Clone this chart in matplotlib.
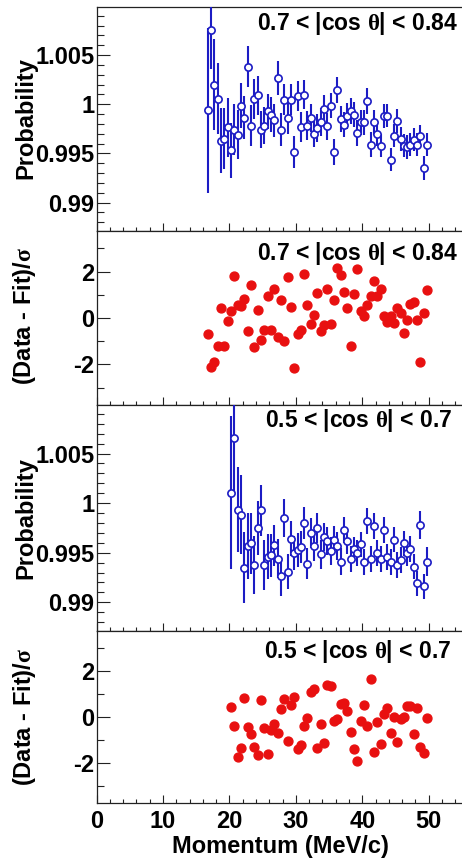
import matplotlib
matplotlib.use('Agg')
import matplotlib.pyplot as plt
from matplotlib.ticker import MultipleLocator, FuncFormatter

plt.rcParams['font.family'] = ['Liberation Sans', 'DejaVu Sans']
plt.rcParams['font.weight'] = 'bold'
plt.rcParams['mathtext.fontset'] = 'custom'
plt.rcParams['mathtext.rm'] = 'Liberation Serif'
plt.rcParams['mathtext.it'] = 'Liberation Serif:italic'
plt.rcParams['axes.unicode_minus'] = False

# ---------------- data ----------------
mom_a = [16.75, 17.25, 17.75, 18.25, 18.75, 19.25, 19.75, 20.25, 20.75, 21.25,
         21.75, 22.25, 22.75, 23.25, 23.75, 24.25, 24.75, 25.25, 25.75, 26.25,
         26.75, 27.25, 27.75, 28.25, 28.75, 29.25, 29.75, 30.25, 30.75, 31.25,
         31.75, 32.25, 32.75, 33.25, 33.75, 34.25, 34.75, 35.25, 35.75, 36.25,
         36.75, 37.25, 37.75, 38.25, 38.75, 39.25, 39.75, 40.25, 40.75, 41.25,
         41.75, 42.25, 42.75, 43.25, 43.75, 44.25, 44.75, 45.25, 45.75, 46.25,
         46.75, 47.25, 47.75, 48.25, 48.75, 49.25, 49.75]
prob_a = [0.99939, 1.00755, 1.00201, 1.00055, 0.99630, 0.99647, 0.99765, 0.99531, 0.99742, 0.99691,
          0.99987, 0.99864, 1.00381, 0.99783, 1.00055, 1.00092, 0.99742, 0.99783, 0.99929, 0.99895,
          0.99837, 1.00269, 0.99742, 1.00048, 0.99861, 1.00048, 0.99514, 1.00082, 0.99769, 1.00099,
          0.99783, 0.99861, 0.99701, 0.99759, 0.99820, 0.99953, 0.99776, 0.99987, 0.99514, 1.00143,
          0.99851, 0.99793, 0.99878, 0.99929, 0.99895, 0.99708, 0.99816, 0.99816, 1.00031, 0.99589,
          0.99816, 0.99701, 0.99579, 0.99878, 0.99885, 0.99436, 0.99681, 0.99827, 0.99647, 0.99579,
          0.99565, 0.99589, 0.99640, 0.99589, 0.99674, 0.99351, 0.99589]
err_a = [0.0084, 0.0040, 0.0046, 0.0036, 0.0033, 0.0031, 0.0030, 0.0028, 0.0026, 0.0025,
         0.0023, 0.0022, 0.0021, 0.0021, 0.0020, 0.0020, 0.0019, 0.0019, 0.0018, 0.0018,
         0.0017, 0.0017, 0.0017, 0.0016, 0.0016, 0.0016, 0.0016, 0.0015, 0.0015, 0.0015,
         0.0015, 0.0014, 0.0014, 0.0014, 0.0014, 0.0014, 0.0014, 0.0013, 0.0013, 0.0013,
         0.0013, 0.0013, 0.0013, 0.0013, 0.0013, 0.0013, 0.0013, 0.0013, 0.0013, 0.0013,
         0.0013, 0.0013, 0.0012, 0.0012, 0.0012, 0.0012, 0.0012, 0.0012, 0.0012, 0.0012,
         0.0012, 0.0012, 0.0012, 0.0012, 0.0012, 0.0012, 0.0012]
resid_a = [-0.68, -2.10, -1.91, -1.19, 0.41, -1.19, -0.13, 0.30, 1.83, 0.55,
           0.51, 0.84, -0.54, 1.42, -1.23, 0.36, -0.94, -0.51, 0.94, -0.51,
           1.23, -0.80, 0.77, -0.97, 1.78, 0.48, -2.16, -0.71, -0.51, 1.90,
           0.58, -0.28, 0.12, 1.09, -0.57, -0.32, 1.25, -0.25, 0.77, 2.14,
           1.86, 1.13, 0.41, -1.22, 1.03, 2.10, 0.30, 0.07, 0.58, 0.94,
           1.61, 0.94, 1.23, 0.07, -0.17, 0.07, -0.22, 0.41, 0.22, -0.65,
           -0.10, 0.62, 0.67, -0.10, -1.91, 0.22, 1.20]

mom_b = [20.25, 20.75, 21.25, 21.75, 22.25, 22.75, 23.25, 23.75, 24.25, 24.75,
         25.25, 25.75, 26.25, 26.75, 27.25, 27.75, 28.25, 28.75, 29.25, 29.75,
         30.25, 30.75, 31.25, 31.75, 32.25, 32.75, 33.25, 33.75, 34.25, 34.75,
         35.25, 35.75, 36.25, 36.75, 37.25, 37.75, 38.25, 38.75, 39.25, 39.75,
         40.25, 40.75, 41.25, 41.75, 42.25, 42.75, 43.25, 43.75, 44.25, 44.75,
         45.25, 45.75, 46.25, 46.75, 47.25, 47.75, 48.25, 48.75, 49.25, 49.75]
prob_b = [1.00107, 1.00660, 0.99933, 0.99883, 0.99350, 0.99567, 0.99593, 0.99377, 0.99750, 0.99927,
          0.99377, 0.99460, 0.99473, 0.99573, 0.99440, 0.99260, 0.99847, 0.99310, 0.99643, 0.99500,
          0.99527, 0.99560, 0.99800, 0.99390, 0.99700, 0.99567, 0.99750, 0.99483, 0.99660, 0.99617,
          0.99517, 0.99627, 0.99567, 0.99410, 0.99727, 0.99617, 0.99433, 0.99533, 0.99500, 0.99583,
          0.99407, 0.99817, 0.99440, 0.99773, 0.99500, 0.99440, 0.99727, 0.99460, 0.99410, 0.99633,
          0.99377, 0.99423, 0.99593, 0.99493, 0.99540, 0.99360, 0.99190, 0.99783, 0.99160, 0.99410]
err_b = [0.0077, 0.0058, 0.0043, 0.0040, 0.0036, 0.0033, 0.0031, 0.0029, 0.0027, 0.0026,
         0.0025, 0.0023, 0.0022, 0.0021, 0.0020, 0.0020, 0.0019, 0.0018, 0.0018, 0.0017,
         0.0017, 0.0016, 0.0016, 0.0016, 0.0015, 0.0015, 0.0015, 0.0015, 0.0014, 0.0014,
         0.0014, 0.0014, 0.0014, 0.0014, 0.0013, 0.0013, 0.0013, 0.0013, 0.0013, 0.0013,
         0.0013, 0.0013, 0.0013, 0.0013, 0.0013, 0.0013, 0.0013, 0.0013, 0.0013, 0.0013,
         0.0013, 0.0013, 0.0013, 0.0013, 0.0013, 0.0013, 0.0013, 0.0014, 0.0013, 0.0015]
resid_b = [0.45, -0.39, -1.74, -1.33, 0.84, -0.43, -0.72, -1.30, -1.65, 0.73,
           -0.46, -1.62, -0.58, -0.29, -0.68, 0.37, 0.80, -1.04, 0.51, 0.87,
           -1.40, -1.22, -0.39, -0.03, 1.10, 1.20, -1.33, -0.32, -1.14, 1.39,
           1.35, -0.17, -0.10, 0.55, 0.62, 0.26, -0.65, -1.41, -1.91, -0.17,
           0.52, -0.39, 1.64, -1.51, -0.20, -1.19, 0.12, 0.38, -0.68, 0.00,
           -1.07, -0.10, 0.00, 0.48, 0.48, -0.75, 0.41, -1.30, -1.59, -0.03]

label_a = r'0.7 < |cos $\mathrm{\theta}$| < 0.84'
label_b = r'0.5 < |cos $\mathrm{\theta}$| < 0.7'
prob_ticks = [0.99, 0.995, 1.0, 1.005]
resid_ticks = [-2, 0, 2]

# ---------------- style ----------------
BLUE = '#1c1cc4'
RED = '#e81010'
W, H = 462.0, 861.0
TICK_FS = 17
PANEL_FS = 16.5
LAB_FS = 17

fig = plt.figure(figsize=(W / 100, H / 100), dpi=100)
left = 96.5 / W
width = (462.0 - 96.5) / W
bands = [(7, 231), (231, 405), (405, 631), (631, 803)]
axes = []
for top, bot in bands:
    ax = fig.add_axes([left, 1 - bot / H, width, (bot - top) / H])
    axes.append(ax)

def style(ax, kind, bottom):
    ax.set_xlim(0, 55)
    ax.xaxis.set_major_locator(MultipleLocator(10))
    ax.xaxis.set_minor_locator(MultipleLocator(2))
    if kind == 'prob':
        ax.set_ylim(0.9871, 1.0099)
        ax.set_yticks(prob_ticks)
        ax.yaxis.set_minor_locator(MultipleLocator(0.001))
        ax.yaxis.set_major_formatter(FuncFormatter(lambda v, p: f'{v:g}'))
    else:
        ax.set_ylim(-3.75, 3.75)
        ax.set_yticks(resid_ticks)
        ax.yaxis.set_minor_locator(MultipleLocator(1))
        ax.yaxis.set_major_formatter(FuncFormatter(lambda v, p: f'{v:g}'))
    ax.tick_params(axis='both', which='both', direction='in', top=False, right=False,
                   color='#222222', width=0.8)
    ax.tick_params(axis='y', which='major', length=9.5, pad=1.5, labelsize=TICK_FS)
    ax.tick_params(axis='y', which='minor', length=5)
    ax.tick_params(axis='x', which='major', length=5.5, pad=5, labelsize=TICK_FS)
    ax.tick_params(axis='x', which='minor', length=2.8)
    if not bottom:
        ax.tick_params(axis='x', labelbottom=False)
    for lab in ax.get_yticklabels() + ax.get_xticklabels():
        lab.set_fontweight('bold')
    for s in ('left', 'bottom', 'top'):
        ax.spines[s].set_color('#222222')
        ax.spines[s].set_linewidth(0.9)
    ax.spines['right'].set_visible(False)

# Panel 1
ax = axes[0]
ax.errorbar(mom_a, prob_a, yerr=err_a, fmt='o', ms=5.2, mfc='white', mec=BLUE,
            mew=1.2, ecolor=BLUE, elinewidth=1.5, capsize=0, zorder=3)
style(ax, 'prob', False)

# Panel 2
ax = axes[1]
ax.plot(mom_a, resid_a, 'o', ms=6.4, color=RED, mec=RED, zorder=3)
style(ax, 'resid', False)

# Panel 3
ax = axes[2]
ax.errorbar(mom_b, prob_b, yerr=err_b, fmt='o', ms=5.2, mfc='white', mec=BLUE,
            mew=1.2, ecolor=BLUE, elinewidth=1.5, capsize=0, zorder=3)
style(ax, 'prob', False)

# Panel 4
ax = axes[3]
ax.plot(mom_b, resid_b, 'o', ms=6.4, color=RED, mec=RED, zorder=3)
style(ax, 'resid', True)

# Panel labels
fig.text(458 / W, 1 - 30 / H, label_a, ha='right', va='baseline', fontsize=PANEL_FS, fontweight='bold')
fig.text(458 / W, 1 - 260 / H, label_a, ha='right', va='baseline', fontsize=PANEL_FS, fontweight='bold')
fig.text(452 / W, 1 - 427 / H, label_b, ha='right', va='baseline', fontsize=PANEL_FS, fontweight='bold')
fig.text(451 / W, 1 - 658 / H, label_b, ha='right', va='baseline', fontsize=PANEL_FS, fontweight='bold')

# Axis titles
fig.text(25.5 / W, 1 - 118 / H, 'Probability', rotation=90, ha='center', va='center',
         fontsize=LAB_FS, fontweight='bold')
fig.text(25 / W, 1 - 316 / H, r'(Data - Fit)/$\mathrm{\sigma}$', rotation=90, ha='center', va='center',
         fontsize=LAB_FS, fontweight='bold')
fig.text(25.5 / W, 1 - 518 / H, 'Probability', rotation=90, ha='center', va='center',
         fontsize=LAB_FS, fontweight='bold')
fig.text(25 / W, 1 - 717 / H, r'(Data - Fit)/$\mathrm{\sigma}$', rotation=90, ha='center', va='center',
         fontsize=LAB_FS, fontweight='bold')
fig.text(280 / W, 1 - 846 / H, 'Momentum (MeV/c)', ha='center', va='center',
         fontsize=LAB_FS, fontweight='bold')

fig.savefig('out.png', dpi=100)
